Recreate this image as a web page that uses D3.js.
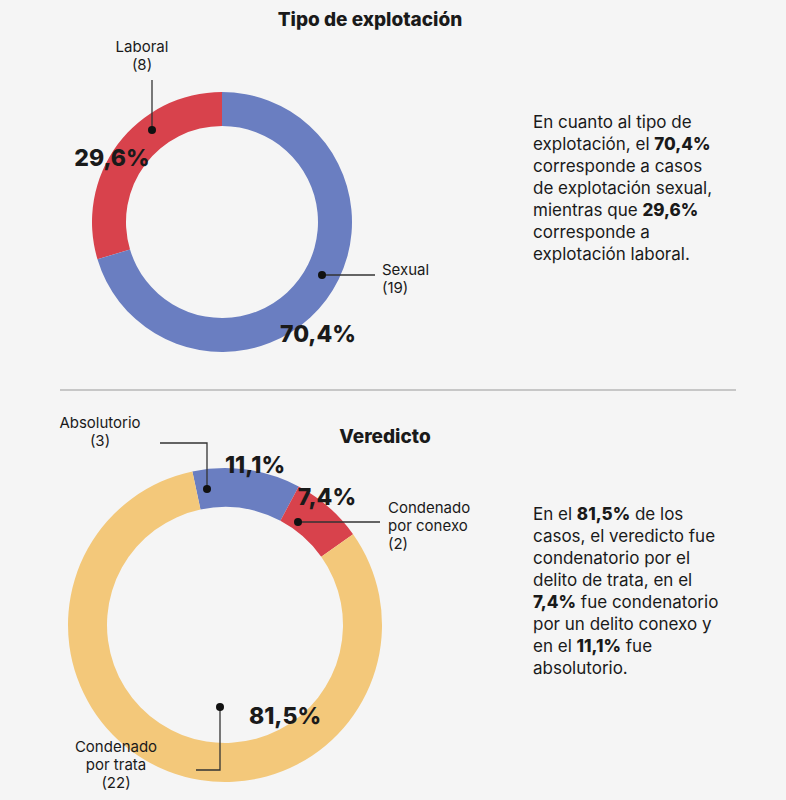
<!DOCTYPE html>
<html><head><meta charset="utf-8">
<script src="https://cdn.jsdelivr.net/npm/d3@7"></script>
<style>body{margin:0;background:#f5f5f5}text{font-family:Inter,"Noto Sans",sans-serif;fill:#1a1a1a}</style>
</head><body>
<script>
// data
const tipoLabels = ["Laboral", "Sexual"];
const tipoCounts = [8, 19];
const tipoPct = ["29,6%", "70,4%"];
const verLabels = ["Absolutorio", "Condenado por conexo", "Condenado por trata"];
const verCounts = [3, 2, 22];
const verPct = ["11,1%", "7,4%", "81,5%"];

const svg = d3.select("body").append("svg").attr("width", 786).attr("height", 800);
svg.append("rect").attr("width", 786).attr("height", 800).attr("fill", "#f5f5f5");

function donut(cx, cy, r0, r1, counts, colors, startDeg) {
  const s = startDeg * Math.PI / 180;
  const pie = d3.pie().sort(null).startAngle(s).endAngle(s + 2 * Math.PI);
  const arc = d3.arc().innerRadius(r0).outerRadius(r1);
  const g = svg.append("g").attr("transform", `translate(${cx},${cy})`);
  g.selectAll("path").data(pie(counts)).join("path").attr("d", arc).attr("fill", (d, i) => colors[i]);
}
function dot(p) { svg.append("circle").attr("cx", p[0]).attr("cy", p[1]).attr("r", 4).attr("fill", "#111"); }
function leader(pts) { svg.append("polyline").attr("points", pts.map(p => p.join(",")).join(" ")).attr("fill", "none").attr("stroke", "#333").attr("stroke-width", 1.3); }
function txt(x, y, lines, opts = {}) {
  const t = svg.append("text").attr("x", x).attr("y", y).attr("text-anchor", opts.anchor || "start")
    .attr("font-size", opts.size || 15).attr("font-weight", opts.weight || 400);
  lines.forEach((l, i) => {
    const ts = t.append("tspan").attr("x", x).attr("dy", i ? (opts.lh || 18) : 0);
    (Array.isArray(l) ? l : [l]).forEach((seg, j) => ts.append("tspan").attr("font-weight", j % 2 ? 800 : null).text(seg));
  });
}

const blue = "#6a7ec1", red = "#d8424c", yellow = "#f3c87a";

// top chart
txt(370, 26, ["Tipo de explotación"], { anchor: "middle", size: 19, weight: 800 });
donut(222, 222, 96, 130, tipoCounts, [red, blue], -360 * tipoCounts[0] / 27);
const l1 = [152, 130];
leader([l1, [152, 80]]); dot(l1);
txt(142, 52, [tipoLabels[0], `(${tipoCounts[0]})`], { anchor: "middle", size: 15 });
txt(112, 166, [tipoPct[0]], { anchor: "middle", size: 23, weight: 800 });
const l2 = [322, 275];
leader([l2, [375, 275]]); dot(l2);
txt(382, 275, [tipoLabels[1], `(${tipoCounts[1]})`], { size: 15 });
txt(318, 342, [tipoPct[1]], { anchor: "middle", size: 23, weight: 800 });
txt(533, 128, ["En cuanto al tipo de", ["explotación, el ", "70,4%"], "corresponde a casos", "de explotación sexual,",
  ["mientras que ", "29,6%"], "corresponde a", "explotación laboral."], { size: 17, lh: 22 });

svg.append("line").attr("x1", 60).attr("x2", 736).attr("y1", 390).attr("y2", 390).attr("stroke", "#999");

// bottom chart
txt(385, 443, ["Veredicto"], { anchor: "middle", size: 19, weight: 800 });
donut(225, 625, 118, 157, verCounts, [blue, red, yellow], -12);
const p1 = [207, 489];
leader([p1, [207, 443], [160, 443]]); dot(p1);
txt(100, 428, [verLabels[0], `(${verCounts[0]})`], { anchor: "middle", size: 15 });
txt(255, 473, [verPct[0]], { anchor: "middle", size: 23, weight: 800 });
const p2 = [298, 522];
leader([p2, [380, 522]]); dot(p2);
txt(388, 513, ["Condenado", "por conexo", `(${verCounts[1]})`], { size: 15 });
txt(327, 505, [verPct[1]], { anchor: "middle", size: 23, weight: 800 });
const p3 = [220, 707];
leader([p3, [220, 770], [196, 770]]); dot(p3);
txt(116, 752, ["Condenado", "por trata", `(${verCounts[2]})`], { anchor: "middle", size: 15 });
txt(285, 724, [verPct[2]], { anchor: "middle", size: 23, weight: 800 });
txt(533, 520, [["En el ", "81,5%", " de los"], "casos, el veredicto fue", "condenatorio por el", "delito de trata, en el",
  ["", "7,4%", " fue condenatorio"], "por un delito conexo y", ["en el ", "11,1%", " fue"], "absolutorio."], { size: 17, lh: 22 });
</script>
</body></html>
